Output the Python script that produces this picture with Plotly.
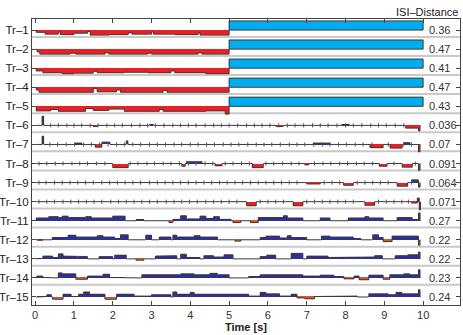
import plotly.graph_objects as go

rows = ["Tr–%d" % k for k in range(1, 16)]
isi_values = ["0.36", "0.47", "0.41", "0.47", "0.43", "0.036", "0.07", "0.091",
              "0.064", "0.071", "0.27", "0.22", "0.22", "0.23", "0.24"]
x_ticks = list(range(0, 11))

# profile segments per train: (start [s], end [s], value)
tr1 = [(0.03, 0.26, -0.25), (0.26, 0.6, -0.45), (0.6, 0.65, -0.2), (0.65, 1.0, -0.5),
       (1.0, 1.35, -0.35), (1.35, 1.42, -0.15), (1.42, 1.9, -0.55), (1.9, 2.4, -0.5),
       (2.4, 2.5, -0.3), (2.5, 3.0, -0.45), (3.0, 3.05, -0.2), (3.05, 3.6, -0.45),
       (3.6, 4.2, -0.5), (4.2, 4.25, -0.3), (4.25, 5.0, -0.55), (5.0, 10.0, 1.0)]
tr2 = [(0.05, 0.12, -0.3), (0.12, 0.9, -0.55), (0.9, 1.05, -0.45), (1.05, 1.8, -0.55),
       (1.8, 1.9, -0.4), (1.9, 2.9, -0.55), (2.9, 3.0, -0.45), (3.0, 4.2, -0.55),
       (4.2, 4.3, -0.4), (4.3, 5.0, -0.55), (5.0, 10.0, 1.0)]
tr3 = [(0.03, 0.2, -0.3), (0.2, 0.7, -0.5), (0.7, 1.0, -0.6), (1.0, 1.5, -0.55),
       (1.5, 1.6, -0.35), (1.6, 2.3, -0.5), (2.3, 2.9, -0.45), (2.9, 3.5, -0.5),
       (3.5, 3.6, -0.3), (3.6, 4.4, -0.5), (4.4, 5.0, -0.6), (5.0, 10.0, 1.0)]
tr4 = [(0.03, 0.1, -0.3), (0.1, 1.5, -0.55), (1.5, 1.6, -0.1), (1.6, 2.1, -0.5),
       (2.1, 2.2, -0.3), (2.2, 3.3, -0.55), (3.3, 3.4, -0.35), (3.4, 5.0, -0.55),
       (5.0, 10.0, 1.0)]
tr5 = [(0.03, 0.4, -0.5), (0.4, 0.6, -0.35), (0.6, 1.3, -0.55), (1.3, 1.5, -0.25),
       (1.5, 1.9, -0.45), (1.9, 2.3, -0.3), (2.3, 3.2, -0.55), (3.2, 3.3, -0.35),
       (3.3, 4.4, -0.55), (4.4, 4.9, -0.5), (4.9, 5.0, -0.85), (5.0, 10.0, 1.0)]
tr6 = [(0.18, 0.22, 1.0), (1.5, 1.6, -0.1), (2.95, 3.05, 0.1), (6.2, 6.4, -0.1),
       (7.9, 8.1, 0.1), (9.55, 9.88, -0.3), (9.88, 9.92, -0.6)]
tr7 = [(0.18, 0.22, 0.9), (1.03, 1.2, 0.15), (1.55, 1.72, -0.3), (1.72, 1.93, 0.25),
       (2.35, 2.39, 0.4), (7.17, 7.6, 0.15), (8.63, 8.97, -0.35), (9.15, 9.46, -0.4),
       (9.5, 9.66, 0.2), (9.88, 9.92, -0.8)]
tr8 = [(2.0, 2.4, -0.45), (3.78, 3.87, -0.3), (3.9, 4.3, 0.2), (4.64, 4.82, -0.25),
       (5.6, 5.88, -0.45), (6.95, 7.05, -0.15), (8.87, 9.07, -0.3), (9.46, 9.72, -0.4),
       (9.88, 9.92, -0.75)]
tr9 = [(7.0, 7.35, -0.15), (7.95, 8.2, -0.3), (9.33, 9.6, -0.4), (9.7, 9.88, 0.3),
       (9.88, 9.92, -0.5)]
tr10 = [(5.45, 5.7, -0.45), (6.65, 6.9, -0.45), (8.5, 8.75, -0.4), (9.7, 9.85, -0.15),
        (9.85, 9.9, 0.4), (9.9, 9.93, -0.9)]
tr11 = [(0.03, 0.35, 0.3), (0.35, 0.6, 0.45), (0.6, 0.7, 0.35), (0.7, 0.85, 0.5),
        (0.85, 1.3, 0.35), (1.3, 1.45, 0.45), (1.45, 2.0, 0.3), (2.0, 2.32, 0.5),
        (2.6, 2.8, 0.1), (3.45, 3.55, -0.2), (3.55, 3.75, 0.15), (3.75, 3.9, 0.55),
        (3.9, 4.25, 0.2), (4.25, 4.4, 0.5), (4.4, 4.6, 0.25), (4.6, 4.75, 0.45),
        (4.75, 5.05, 0.15), (5.1, 5.3, -0.2), (5.55, 5.75, -0.2), (5.75, 6.4, 0.35),
        (6.4, 6.5, 0.55), (6.5, 6.9, 0.3), (7.35, 7.6, 0.3), (8.07, 8.5, 0.3),
        (8.5, 8.6, 0.45), (8.6, 8.97, 0.3), (9.33, 9.72, 0.35), (9.72, 9.88, 0.1),
        (9.88, 9.92, 0.85)]
tr12 = [(0.05, 0.2, -0.05), (0.44, 0.85, 0.25), (0.85, 1.05, 0.5), (1.05, 1.6, 0.3),
        (1.6, 1.75, 0.45), (1.75, 2.05, 0.3), (2.05, 2.2, 0.1), (2.2, 2.4, 0.55),
        (2.85, 3.0, 0.5), (3.2, 3.5, 0.3), (3.55, 3.65, 0.5), (3.65, 4.1, 0.3),
        (4.1, 4.25, 0.45), (4.25, 4.7, 0.3), (5.15, 5.3, -0.15), (5.8, 5.95, 0.25),
        (5.95, 6.3, 0.4), (6.3, 6.5, 0.2), (6.5, 6.6, 0.45), (6.6, 7.0, 0.25),
        (7.38, 7.6, 0.4), (7.6, 8.2, 0.3), (8.2, 8.4, 0.1), (8.7, 8.85, 0.55),
        (8.85, 8.97, 0.25), (8.97, 9.2, -0.2), (9.2, 9.88, 0.4), (9.88, 9.92, -0.6)]
tr13 = [(0.04, 0.2, 0.05), (0.2, 0.45, 0.3), (0.45, 0.6, 0.15), (0.6, 0.72, 0.55),
        (0.72, 1.05, 0.3), (1.05, 1.35, 0.25), (1.65, 2.0, 0.25), (2.05, 2.35, 0.4),
        (2.6, 2.8, -0.15), (3.1, 3.3, 0.3), (3.3, 3.65, 0.35), (3.75, 3.9, 0.5),
        (3.9, 4.25, 0.15), (4.35, 4.6, 0.35), (4.6, 4.87, 0.2), (4.87, 5.1, 0.45),
        (5.8, 5.97, 0.25), (5.97, 6.2, 0.4), (6.6, 6.9, 0.6), (7.0, 7.55, 0.3),
        (7.55, 8.2, 0.15), (8.2, 8.75, 0.2), (8.75, 8.95, 0.35), (9.28, 9.6, 0.35),
        (9.6, 9.88, 0.45), (9.88, 9.92, 0.75)]
tr14 = [(0.04, 0.2, 0.2), (0.2, 0.35, 0.05), (0.6, 0.7, 0.55), (0.7, 1.05, 0.45),
        (1.05, 1.35, -0.15), (1.35, 1.75, 0.2), (1.75, 1.92, 0.4), (1.92, 2.3, 0.05),
        (2.75, 3.75, 0.35), (3.75, 4.1, 0.45), (4.1, 4.5, 0.35), (4.5, 4.7, 0.5),
        (4.7, 5.0, 0.35), (5.5, 5.8, 0.15), (5.8, 6.9, 0.35), (6.9, 7.35, 0.2),
        (7.35, 7.7, 0.3), (7.7, 7.96, 0.15), (7.96, 8.22, -0.1), (8.22, 8.35, 0.2),
        (8.35, 8.6, -0.2), (8.6, 8.97, 0.3), (8.97, 9.14, -0.15), (9.14, 9.5, 0.35),
        (9.5, 9.65, 0.45), (9.65, 9.88, 0.35), (9.88, 9.92, 0.9)]
tr15 = [(0.05, 0.3, 0.05), (0.3, 0.42, 0.25), (0.45, 0.72, -0.25), (0.72, 0.93, 0.3),
        (0.93, 1.12, 0.05), (1.12, 1.25, 0.3), (1.25, 1.4, 0.55), (1.4, 1.8, 0.3),
        (1.8, 2.1, -0.25), (2.1, 2.55, 0.3), (2.55, 3.0, 0.1), (3.0, 3.5, 0.25),
        (3.55, 3.65, 0.55), (3.65, 4.0, 0.3), (4.0, 4.1, 0.5), (4.1, 5.5, 0.3),
        (5.5, 5.8, 0.1), (5.8, 5.95, 0.5), (5.95, 6.3, 0.35), (6.3, 6.6, 0.1),
        (6.6, 6.75, 0.3), (6.75, 6.95, -0.1), (6.95, 7.2, -0.2), (7.2, 7.6, 0.05),
        (7.6, 8.3, 0.1), (8.6, 9.1, 0.35), (9.1, 9.3, 0.25), (9.3, 9.45, 0.5),
        (9.45, 9.88, 0.35), (9.88, 9.92, 0.8)]
profiles = [tr1, tr2, tr3, tr4, tr5, tr6, tr7, tr8, tr9, tr10, tr11, tr12, tr13, tr14, tr15]

# spike marks along the baseline of the nearly regular trains
spikes6 = [0.4, 0.6, 0.82, 1.0, 1.2, 1.42, 1.62, 1.85, 2.05, 2.25, 2.48, 2.7, 2.9, 3.1, 3.32,
           3.55, 3.75, 3.95, 4.15, 4.38, 4.6, 4.8, 5.0, 5.22, 5.45, 5.65, 5.85, 6.05, 6.28,
           6.5, 6.7, 6.92, 7.15, 7.35, 7.55, 7.78, 8.0, 8.2, 8.42, 8.65, 8.85, 9.05, 9.28, 9.5]
spikes7 = [0.38, 0.58, 0.8, 1.02, 1.25, 1.45, 1.66, 1.88, 2.1, 2.3, 2.52, 2.72, 2.95, 3.15,
           3.36, 3.58, 3.78, 4.0, 4.2, 4.42, 4.62, 4.85, 5.05, 5.25, 5.48, 5.7, 5.9, 6.1,
           6.32, 6.55, 6.75, 6.95, 7.18, 7.4, 7.6, 7.82, 8.02, 8.25, 8.45, 8.68, 9.1, 9.5, 9.7]
spikes8 = [0.1, 0.3, 0.52, 0.72, 0.95, 1.15, 1.35, 1.58, 1.8, 2.45, 2.65, 2.88, 3.08, 3.3,
           3.5, 3.72, 3.95, 4.15, 4.38, 4.58, 4.9, 5.1, 5.32, 5.52, 5.95, 6.15, 6.38, 6.6,
           6.8, 7.2, 7.42, 7.62, 7.85, 8.05, 8.28, 8.48, 8.7, 9.25, 9.8]
spikes9 = [0.1, 0.28, 0.5, 0.7, 0.9, 1.1, 1.3, 1.5, 1.72, 1.92, 2.12, 2.32, 2.52, 2.72,
           2.95, 3.15, 3.35, 3.55, 3.75, 3.95, 4.15, 4.35, 4.55, 4.75, 4.95, 5.15, 5.35,
           5.55, 5.75, 5.95, 6.15, 6.35, 6.55, 6.75, 7.45, 7.65, 7.85, 8.3, 8.5, 8.7, 8.9,
           9.1, 9.7]
spikes10 = [0.1, 0.3, 0.5, 0.72, 0.92, 1.12, 1.32, 1.52, 1.72, 1.95, 2.15, 2.35, 2.55, 2.75,
            2.95, 3.15, 3.38, 3.58, 3.78, 3.98, 4.18, 4.4, 4.6, 4.8, 5.0, 5.2, 5.8, 6.0,
            6.2, 6.4, 7.0, 7.2, 7.4, 7.6, 7.8, 8.0, 8.2, 8.85, 9.05, 9.25, 9.45, 9.62]
spikes = {5: spikes6, 6: spikes7, 7: spikes8, 8: spikes9, 9: spikes10}

SCALE = 0.48      # row units per profile unit
RED = "#ec2024"
CYAN = "#00adee"
NAVY = "#2e3192"
ORANGE = "#d4572c"
EDGE = "#3a3a3a"

fig = go.Figure()

for i, segs in enumerate(profiles):
    base = -i
    if i < 5:
        pos_c, neg_c = CYAN, RED
    elif i < 10:
        pos_c, neg_c = NAVY, RED
    else:
        pos_c, neg_c = NAVY, ORANGE

    fig.add_trace(go.Bar(
        x=[(a + b) / 2 for a, b, v in segs],
        width=[b - a for a, b, v in segs],
        y=[v * SCALE for a, b, v in segs],
        base=[base] * len(segs),
        marker=dict(color=[pos_c if v > 0 else neg_c for a, b, v in segs], line_width=0),
        showlegend=False, hoverinfo="skip",
    ))

    # outline of the step profile along the baseline
    start = 0.03
    end = max(9.93, segs[-1][1]) if i >= 5 else segs[-1][1]
    xs, ys = [start], [base]
    last = start
    for a, b, v in segs:
        if a > last:
            xs += [last, a]
            ys += [base, base]
        xs += [a, b]
        ys += [base + v * SCALE] * 2
        last = b
    xs.append(last)
    ys.append(base)
    if end > last:
        xs.append(end)
        ys.append(base)
    if i < 5:
        # close the blue block along its bottom edge
        xs.append(5.0)
        ys.append(base)
    fig.add_trace(go.Scatter(x=xs, y=ys, mode="lines", line=dict(color=EDGE, width=1),
                             showlegend=False, hoverinfo="skip"))

    if i in spikes:
        fig.add_trace(go.Scatter(
            x=spikes[i], y=[base] * len(spikes[i]), mode="markers",
            marker=dict(symbol="line-ns-open", size=3, color="#555555",
                        line=dict(color="#555555", width=1)),
            showlegend=False, hoverinfo="skip"))

# row separators
for i in range(14):
    fig.add_shape(type="line", xref="paper", x0=0, x1=1, y0=-i - 0.36, y1=-i - 0.36,
                  line=dict(color="#c9c9c9", width=2), layer="below")

# ISI-distance column
for i, val in enumerate(isi_values):
    fig.add_annotation(x=10.1, y=-i, text=val, showarrow=False, xanchor="left",
                       font=dict(size=11, color="#333333"))
fig.add_annotation(xref="paper", yref="paper", x=1, y=1, text="ISI–Distance",
                   showarrow=False, xanchor="right", yanchor="bottom", yshift=-1,
                   font=dict(size=11, color="#222222"))

fig.update_layout(
    width=463, height=335,
    margin=dict(l=32, r=3, t=19, b=30),
    paper_bgcolor="white", plot_bgcolor="white",
    barmode="overlay", bargap=0,
    font=dict(family="Liberation Sans, Arial, sans-serif", size=11, color="#222222"),
    xaxis=dict(range=[-0.08, 10.95], tickvals=x_ticks, ticks="inside", ticklen=4,
               showline=True, linecolor="#444444", linewidth=1, mirror="ticks",
               showgrid=False, zeroline=False, tickfont=dict(size=11, color="#333333"),
               title=dict(text="<b>Time [s]</b>", font=dict(size=11), standoff=2),
               automargin=False),
    yaxis=dict(range=[-14.42, 0.58], tickvals=[-i for i in range(15)], ticktext=rows,
               ticks="inside", ticklen=4, showline=True, linecolor="#444444", linewidth=1,
               mirror="ticks", showgrid=False, zeroline=False,
               tickfont=dict(size=11.5, color="#222222"), automargin=False),
)

fig.write_html("out.html", config={"displayModeBar": False},
               post_script="document.body.style.margin = '0';")
